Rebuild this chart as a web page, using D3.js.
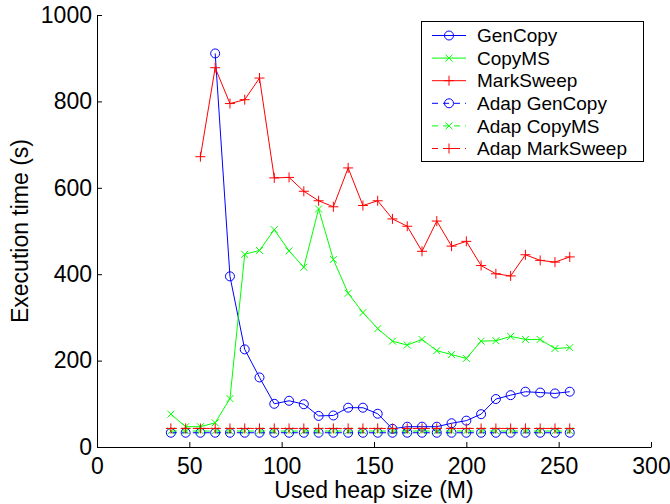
<!DOCTYPE html>
<html>
<head>
    <meta http-equiv="Content-Type" content="text/html;charset=utf-8">
    <script src="https://d3js.org/d3.v7.min.js"></script>
    <style>
        html, body {
            margin: 0;
            padding: 0;
            background: #fff;
        }

        svg {
            display: block;
            font-family: "Liberation Sans", Arial, sans-serif;
        }

        .axis path, .axis line {
            stroke: #000;
            stroke-width: 1px;
        }

        .axis text {
            font-size: 23px;
            fill: #000;
        }
    </style>
</head>
<body>
<div id="chart"></div>
<script>
    // heap sizes (M)
    var heapSizes = [40, 48, 56, 64, 72, 80, 88, 96, 104, 112, 120, 128, 136, 144,
        152, 160, 168, 176, 184, 192, 200, 208, 216, 224, 232, 240, 248, 256];

    // null where the series has no point
    var genCopy = [null, null, null, 911, 395, 226, 161, 100, 107, 99, 72, 73, 91, 91,
        77, 42, 47, 47, 47, 55, 61, 76, 111, 120, 128, 126, 124, 128];
    var copyMS = [76, 47, 47, 56, 112, 446, 455, 503, 454, 416, 551, 434, 356, 311,
        274, 245, 236, 249, 223, 214, 205, 245, 246, 256, 249, 249, 228, 230];
    var markSweep = [null, null, 672, 878, 795, 804, 854, 623, 624, 592, 570, 556, 646, 559,
        570, 528, 511, 453, 523, 465, 476, 420, 401, 396, 445, 432, 428, 440];
    var adapGenCopy = [33, 33, 33, 33, 33, 33, 33, 33, 33, 33, 33, 33, 33, 33,
        33, 33, 33, 33, 33, 33, 33, 33, 33, 33, 33, 33, 33, 33];
    var adapCopyMS = [37, 37, 37, 37, 37, 37, 37, 37, 37, 37, 37, 37, 37, 37,
        37, 37, 37, 37, 37, 37, 37, 37, 37, 37, 37, 37, 37, 37];
    var adapMarkSweep = [43, 43, 43, 43, 43, 43, 43, 43, 43, 43, 43, 43, 43, 43,
        43, 43, 43, 43, 43, 43, 43, 43, 43, 43, 43, 43, 43, 43];

    var xTicks = [0, 50, 100, 150, 200, 250, 300];
    var yTicks = [0, 200, 400, 600, 800, 1000];

    var series = [
        {name: "GenCopy", values: genCopy, color: "#0000ff", marker: "o", dash: null},
        {name: "CopyMS", values: copyMS, color: "#00ff00", marker: "x", dash: null},
        {name: "MarkSweep", values: markSweep, color: "#ff0000", marker: "+", dash: null},
        {name: "Adap GenCopy", values: adapGenCopy, color: "#0000ff", marker: "o", dash: "6,5"},
        {name: "Adap CopyMS", values: adapCopyMS, color: "#00ff00", marker: "x", dash: "6,5"},
        {name: "Adap MarkSweep", values: adapMarkSweep, color: "#ff0000", marker: "+", dash: "6,5"}
    ];

    var width = 670,
        height = 504;

    var svg = d3.select("#chart").append("svg")
        .attr("width", width)
        .attr("height", height);

    var x = d3.scaleLinear().domain([0, 300]).range([97, 651]);
    var y = d3.scaleLinear().domain([0, 1000]).range([447, 15]);

    // axes, ticks pointing inward
    svg.append("g")
        .attr("class", "axis")
        .attr("transform", "translate(0," + y(0) + ")")
        .call(d3.axisBottom(x).tickValues(xTicks).tickFormat(d3.format("d"))
            .tickSizeInner(-5).tickSizeOuter(0).tickPadding(11))
        .selectAll("text").attr("dy", "0.71em");

    svg.append("g")
        .attr("class", "axis")
        .attr("transform", "translate(" + x(0) + ",0)")
        .call(d3.axisLeft(y).tickValues(yTicks).tickFormat(d3.format("d"))
            .tickSizeInner(-5).tickSizeOuter(0).tickPadding(5));

    svg.append("text")
        .attr("x", (x(0) + x(300)) / 2)
        .attr("y", 498)
        .attr("text-anchor", "middle")
        .style("font-size", "23px")
        .text("Used heap size (M)");

    svg.append("text")
        .attr("transform", "translate(28," + (y(0) + y(1000)) / 2 + ") rotate(-90)")
        .attr("text-anchor", "middle")
        .style("font-size", "23px")
        .text("Execution time (s)");

    var drawMarker = function (g, type, cx, cy, color) {
        if (type === "o") {
            g.append("circle").attr("cx", cx).attr("cy", cy).attr("r", 4.5)
                .attr("fill", "none").attr("stroke", color).attr("stroke-width", 1);
        } else if (type === "x") {
            var s = 3.5;
            g.append("path")
                .attr("d", "M" + (cx - s) + "," + (cy - s) + "L" + (cx + s) + "," + (cy + s) +
                    "M" + (cx - s) + "," + (cy + s) + "L" + (cx + s) + "," + (cy - s))
                .attr("stroke", color).attr("stroke-width", 1).attr("fill", "none");
        } else {
            var p = 5;
            g.append("path")
                .attr("d", "M" + (cx - p) + "," + cy + "L" + (cx + p) + "," + cy +
                    "M" + cx + "," + (cy - p) + "L" + cx + "," + (cy + p))
                .attr("stroke", color).attr("stroke-width", 1).attr("fill", "none");
        }
    };

    var line = d3.line()
        .defined(function (d) { return d.v !== null; })
        .x(function (d) { return x(d.h); })
        .y(function (d) { return y(d.v); });

    series.forEach(function (s) {
        var pts = heapSizes.map(function (h, i) {
            return {h: h, v: s.values[i]};
        });
        var g = svg.append("g");
        g.append("path")
            .datum(pts)
            .attr("d", line)
            .attr("fill", "none")
            .attr("stroke", s.color)
            .attr("stroke-width", 1)
            .attr("stroke-dasharray", s.dash);
        pts.forEach(function (d) {
            if (d.v === null) return;
            drawMarker(g, s.marker, x(d.h), y(d.v), s.color);
        });
    });

    // legend
    var legend = svg.append("g");
    legend.append("rect")
        .attr("x", 421.5).attr("y", 21.5)
        .attr("width", 222).attr("height", 140)
        .attr("fill", "#fff").attr("stroke", "#000").attr("stroke-width", 1);

    series.forEach(function (s, i) {
        var ry = 35.5 + i * 22.6;
        legend.append("line")
            .attr("x1", 432).attr("x2", 466)
            .attr("y1", ry).attr("y2", ry)
            .attr("stroke", s.color).attr("stroke-width", 1)
            .attr("stroke-dasharray", s.dash);
        drawMarker(legend, s.marker, 449, ry, s.color);
        legend.append("text")
            .attr("x", 477).attr("y", ry)
            .attr("dy", "0.35em")
            .style("font-size", "19px")
            .text(s.name);
    });
</script>
</body>
</html>
